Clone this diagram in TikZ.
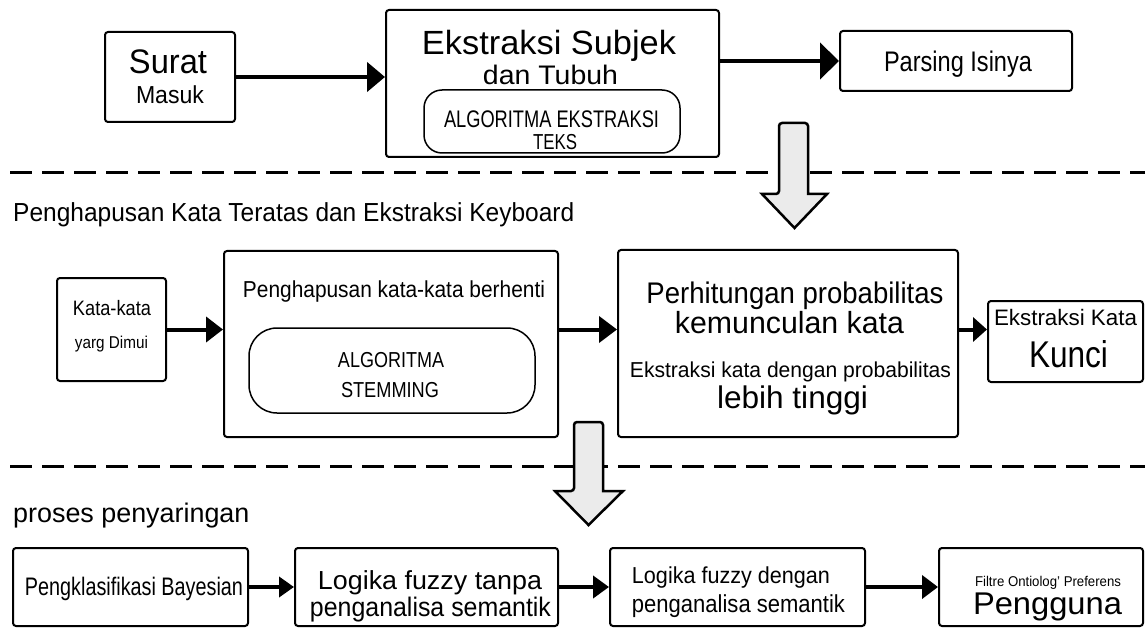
\documentclass[tikz,border=0pt]{standalone}
\usepackage{graphicx}
\usepackage{fontspec}
\setmainfont{Liberation Sans}
\usetikzlibrary{arrows.meta}

\newcommand{\fsz}[1]{\fontsize{#1}{#1}\selectfont}
% text set to a given width and cap height (both in pt)
\newcommand{\tx}[3]{\raisebox{0pt}[#2pt][0pt]{\resizebox{#1pt}{\dimexpr #2pt*1080/1000\relax}{#3}}}

\tikzset{
  box/.style={draw, line width=2pt, rounded corners=3pt, inner sep=0pt},
  inbox/.style={draw, line width=1.5pt, inner sep=0pt},
  txt/.style={inner sep=0pt, anchor=base},
  ltxt/.style={inner sep=0pt, anchor=base west},
  conn/.style={line width=4pt},
  bigarrow/.style={draw, line width=2.5pt, fill=black!8, line join=miter},
  divider/.style={line width=3pt, dash pattern=on 22pt off 10pt},
}

\begin{document}
\begin{tikzpicture}[x=1pt, y=-1pt]
\useasboundingbox (0,0) rectangle (1145,628);

% section dividers
\draw[divider] (10,173) -- (1145,173);
\draw[divider] (10,466) -- (1145,466);

% ---------- row 1: incoming mail ----------
\node[box, minimum width=130pt, minimum height=90pt] (surat) at (170,77) {};
\node[txt] (suratA) at (168,74) {\tx{78}{22}{Surat}};
\node[txt] (suratB) at (170,104) {\tx{68}{16.5}{Masuk}};

\node[box, minimum width=333pt, minimum height=147pt] (ekstr) at (552.5,83.5) {};
\node[inbox, rounded corners=18pt, minimum width=256pt, minimum height=63pt] (ekstrin) at (552,121.5) {};
\node[txt] (ekstrA) at (549,55) {\tx{254}{22.5}{Ekstraksi Subjek}};
\node[txt] (ekstrB) at (550.5,85) {\tx{135}{18}{dan Tubuh}};
\node[txt] (ekstrC) at (551.5,128) {\tx{215}{15.5}{ALGORITMA EKSTRAKSI}};
\node[txt] (ekstrD) at (555,149.5) {\tx{44}{14}{TEKS}};

\node[box, minimum width=232pt, minimum height=60pt] (parsing) at (956,61) {};
\node[txt] (parsingT) at (958,72) {\tx{148}{19}{Parsing Isinya}};

\draw[conn, line width=4.5pt, -{Triangle[length=18pt,width=29pt]}] (surat.east) -- (surat.east -| ekstr.west);
\draw[conn, line width=4.5pt, -{Triangle[length=19pt,width=36pt]}] (parsing.west -| ekstr.east) -- (parsing.west);

% ---------- row 2: stop words and keywords ----------
\node[ltxt] (title2) at (13,222) {\tx{561}{17.5}{Penghapusan Kata Teratas dan Ekstraksi Keyboard}};

\node[box, minimum width=109pt, minimum height=103pt] (kata) at (111.5,329.5) {};
\node[txt] (kataA) at (112,315) {\tx{78}{14}{Kata-kata}};
\node[txt] (kataB) at (111.5,348) {\tx{73}{11.5}{yarg Dimui}};

\node[box, minimum width=334pt, minimum height=186pt] (peng) at (391,344) {};
\node[txt] (pengT) at (394,298) {\tx{302}{15.5}{Penghapusan kata-kata berhenti}};
\node[inbox, rounded corners=28pt, minimum width=286pt, minimum height=85pt] (stem) at (392,370.5) {};
\node[txt] (stemA) at (391,367) {\tx{106}{14}{ALGORITMA}};
\node[txt] (stemB) at (390,397) {\tx{98}{14}{STEMMING}};

\node[box, minimum width=340pt, minimum height=187pt] (perh) at (788,343.5) {};
\node[txt] (perhA) at (795,303) {\tx{297}{20}{Perhitungan probabilitas}};
\node[txt] (perhB) at (789.5,333) {\tx{229}{20.5}{kemunculan kata}};
\node[txt] (perhC) at (790.5,377) {\tx{321}{14.5}{Ekstraksi kata dengan probabilitas}};
\node[txt] (perhD) at (792.5,408) {\tx{151}{21}{lebih tinggi}};

\node[box, minimum width=155pt, minimum height=81pt] (kunci) at (1065.5,341.5) {};
\node[txt] (kunciA) at (1065.5,325) {\tx{143}{15}{Ekstraksi Kata}};
\node[txt] (kunciB) at (1068.5,367) {\tx{79}{25}{Kunci}};

\draw[conn, -{Triangle[length=17pt,width=25pt]}] (kata.east) -- (kata.east -| peng.west);
\draw[conn, -{Triangle[length=18pt,width=26pt]}] (kata.east -| peng.east) -- (kata.east -| perh.west);
\draw[conn, -{Triangle[length=14pt,width=24pt]}] (kata.east -| perh.east) -- (kata.east -| kunci.west);

% ---------- row 3: filtering ----------
\node[ltxt, font=\fsz{26.9}] (title3) at (13,522) {proses penyaringan};

\node[box, minimum width=235pt, minimum height=78pt] (bayes) at (130.5,587) {};
\node[txt] (bayesT) at (134,595) {\tx{218}{17}{Pengklasifikasi Bayesian}};

\node[box, minimum width=263pt, minimum height=78pt] (fuzzyA) at (426.5,587) {};
\node[txt] (fuzzyA1) at (430,589) {\tx{224}{17.5}{Logika fuzzy tanpa}};
\node[txt] (fuzzyA2) at (430.5,616) {\tx{241}{18}{penganalisa semantik}};

\node[box, minimum width=255pt, minimum height=78pt] (fuzzyB) at (737.5,587) {};
\node[txt] (fuzzyB1) at (731,583) {\tx{198}{15.5}{Logika fuzzy dengan}};
\node[txt] (fuzzyB2) at (738.5,612) {\tx{213}{16.5}{penganalisa semantik}};

\node[box, minimum width=204pt, minimum height=78pt] (pref) at (1041,587) {};
\node[txt] (prefA) at (1048,586) {\tx{146}{9.5}{Filtre Ontiolog’ Preferens}};
\node[txt] (prefB) at (1047.5,614) {\tx{149}{20}{Pengguna}};

\draw[conn, -{Triangle[length=15pt,width=20pt]}] (bayes.east) -- (fuzzyA.west);
\draw[conn, -{Triangle[length=16pt,width=22pt]}] (fuzzyA.east) -- (fuzzyB.west);
\draw[conn, -{Triangle[length=16pt,width=23pt]}] (fuzzyB.east) -- (pref.west);

% ---------- block arrows between stages ----------
\draw[bigarrow] (808,194) [rounded corners=3pt] -- (808,123) -- (779,123) -- (779,194) [sharp corners]
  -- (762,194) -- (794.5,228) -- (827,194) -- cycle;
\draw[bigarrow] (603,491) [rounded corners=3pt] -- (603,422) -- (574,422) -- (574,491) [sharp corners]
  -- (555,491) -- (588.5,525) -- (623,491) -- cycle;

\end{tikzpicture}
\end{document}
